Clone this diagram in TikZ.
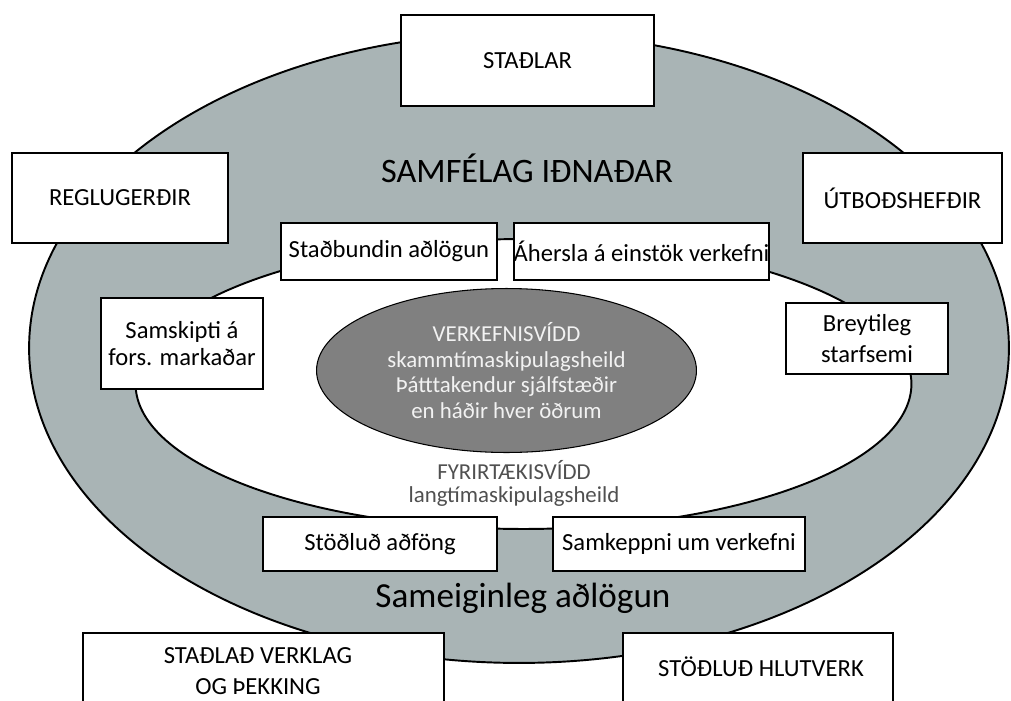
\documentclass[tikz,border=0pt]{standalone}
\usepackage{fontspec}
\setmainfont{Carlito}
\usetikzlibrary{shapes.geometric}
\definecolor{ringgray}{RGB}{169,180,181}
\definecolor{coregray}{RGB}{128,128,128}
\definecolor{coretext}{RGB}{242,242,242}
\definecolor{labelgray}{RGB}{80,80,80}
\tikzset{
  box/.style={draw, fill=white, line width=1.1pt, inner sep=0pt, align=center,
    font=\fontsize{14}{15}\selectfont},
  ring/.style={ellipse, draw, line width=1.1pt, inner sep=0pt},
  biglabel/.style={font=\fontsize{19.5}{22}\selectfont, inner sep=0pt},
  smalllabel/.style={font=\fontsize{13}{15}\selectfont, text=labelgray, inner sep=0pt},
  boxlabel/.style={font=\fontsize{14}{17.6}\selectfont, align=center, inner sep=0pt}
}
\begin{document}
\begin{tikzpicture}[x=0.02cm, y=-0.02cm]
\useasboundingbox (0,0) rectangle (1011,700);
\clip (0,0) rectangle (1011,700);
% outer ring
\node[ring, fill=ringgray, minimum width=19.6cm, minimum height=12.6cm] (outer) at (519,348) {};
% inner field
\node[ring, fill=white, minimum width=15.52cm, minimum height=5.8cm] (inner) at (523.5,384) {};
% outer boxes
\node[box, minimum width=5.06cm, minimum height=1.82cm] (stadlar) at (527.5,60.5) {STAÐLAR};
\node[box, minimum width=4.32cm, minimum height=1.8cm] (regl) at (120,198) {REGLUGERÐIR};
\node[box, minimum width=3.98cm, minimum height=1.8cm] (utbod) at (902.5,198) {ÚTBOÐSHEFÐIR};
\node[box, minimum width=7.22cm, minimum height=2.14cm] (verklagbox) at (263.5,686.5) {};
\node[box, minimum width=5.4cm, minimum height=2.14cm] (hlutverkbox) at (758,686.5) {};
\node[boxlabel] (verklag) at (258,671.5) {STAÐLAÐ VERKLAG\\OG ÞEKKING};
\node[boxlabel] (hlutverk) at (761,667) {STÖÐLUÐ HLUTVERK};
% inner boxes
\node[box, minimum width=4.32cm, minimum height=1.14cm] (stadb) at (389,251.5) {Staðbundin aðlögun};
\node[box, minimum width=5.06cm, minimum height=1.14cm] (ahersla) at (641.5,251.5) {Áhersla á einstök verkefni};
\node[box, minimum width=3.24cm, minimum height=1.82cm] (samsk) at (182,343.5) {Samskipti á\\fors. markaðar};
\node[box, minimum width=3.24cm, minimum height=1.42cm, font=\fontsize{14}{18}\selectfont] (breyt) at (867,338.5) {Breytileg\\starfsemi};
\node[box, minimum width=4.68cm, minimum height=1.08cm] (adfong) at (380,544) {Stöðluð aðföng};
\node[box, minimum width=5.04cm, minimum height=1.08cm] (samkeppni) at (679,544) {Samkeppni um verkefni};
% core
\node[ellipse, draw, line width=0.6pt, fill=coregray, minimum width=7.6cm, minimum height=3.28cm, inner sep=0pt] (core) at (506.5,370.5) {};
\node[font=\fontsize{13}{14.7}\selectfont, text=coretext, align=center, inner sep=0pt] (coretxt) at (506.5,370.5)
  {VERKEFNISVÍDD\\skammtímaskipulagsheild\\Þátttakendur sjálfstæðir\\en háðir hver öðrum};
% labels
\node[biglabel] (samfelag) at (527,168) {SAMFÉLAG IÐNAÐAR};
\node[biglabel, font=\fontsize{20}{22}\selectfont] (sameig) at (523,598) {Sameiginleg aðlögun};
\node[smalllabel] (fyrir) at (514,470) {FYRIRTÆKISVÍDD};
\node[smalllabel] (langt) at (514,497) {langtímaskipulagsheild};
\end{tikzpicture}
\end{document}
